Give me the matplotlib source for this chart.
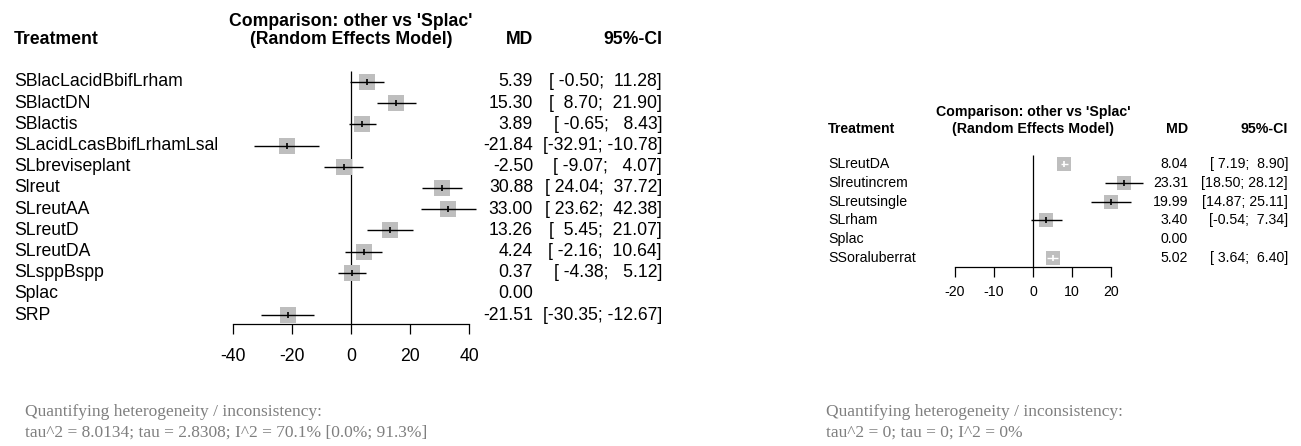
import numpy as np
import matplotlib
matplotlib.use("Agg")
import matplotlib.pyplot as plt
from matplotlib import transforms

plt.rcParams['font.family'] = ['Liberation Sans', 'DejaVu Sans']
plt.rcParams['axes.unicode_minus'] = False

# ---- datos: panel izquierdo ----
trat_izq = ["SBlacLacidBbifLrham", "SBlactDN", "SBlactis", "SLacidLcasBbifLrhamLsal",
            "SLbreviseplant", "Slreut", "SLreutAA", "SLreutD", "SLreutDA",
            "SLsppBspp", "Splac", "SRP"]
md_izq = [5.39, 15.30, 3.89, -21.84, -2.50, 30.88, 33.00, 13.26, 4.24, 0.37, 0.00, -21.51]
lo_izq = [-0.50, 8.70, -0.65, -32.91, -9.07, 24.04, 23.62, 5.45, -2.16, -4.38, np.nan, -30.35]
hi_izq = [11.28, 21.90, 8.43, -10.78, 4.07, 37.72, 42.38, 21.07, 10.64, 5.12, np.nan, -12.67]
ticks_izq = [-40, -20, 0, 20, 40]
het_izq = ["Quantifying heterogeneity / inconsistency:",
           "tau^2 = 8.0134; tau = 2.8308; I^2 = 70.1% [0.0%; 91.3%]"]

# ---- datos: panel derecho ----
trat_der = ["SLreutDA", "Slreutincrem", "SLreutsingle", "SLrham", "Splac", "SSoraluberrat"]
md_der = [8.04, 23.31, 19.99, 3.40, 0.00, 5.02]
lo_der = [7.19, 18.50, 14.87, -0.54, np.nan, 3.64]
hi_der = [8.90, 28.12, 25.11, 7.34, np.nan, 6.40]
ticks_der = [-20, -10, 0, 10, 20]
het_der = ["Quantifying heterogeneity / inconsistency:",
           "tau^2 = 0; tau = 0; I^2 = 0%"]

titulo = ["Comparison: other vs 'Splac'", "(Random Effects Model)"]

W, H = 1301, 446
fig = plt.figure(figsize=(W / 100, H / 100), dpi=100)


def px(x, y):
    # pixeles (desde arriba-izquierda) -> fraccion de figura
    return x / W, 1 - y / H


def forest(trat, md, lo, hi, ticks, ancho_ci, geo):
    x0, x1 = geo['x0'], geo['x1']
    fila0, paso, eje_y = geo['fila0'], geo['paso'], geo['eje']
    fs = geo['fs']
    n = len(trat)
    top_px = fila0 - 0.55 * paso
    ax = fig.add_axes([x0 / W, 1 - eje_y / H, (x1 - x0) / W, (eje_y - top_px) / H])
    ybot = n - 1 - (eje_y - fila0) / paso
    ytop = n - 1 + (fila0 - top_px) / paso
    ax.set_xlim(ticks[0], ticks[-1])
    ax.set_ylim(ybot, ytop)
    ax.patch.set_visible(False)
    for s in ['top', 'right', 'left']:
        ax.spines[s].set_visible(False)
    ax.spines['bottom'].set_linewidth(0.9)
    ax.set_yticks([])
    ax.set_xticks(ticks)
    ax.tick_params(axis='x', length=7.2, width=0.9, labelsize=fs, pad=geo['pad'])

    y = n - 1 - np.arange(n)
    ax.vlines(0, ybot, n - 1 + 0.5, color='black', lw=0.9)

    # cuadrados
    lado = geo['sq']
    ppu = (x1 - x0) / (ticks[-1] - ticks[0])
    for yi, m, a, b in zip(y, md, lo, hi):
        if np.isnan(a):
            continue
        ax.scatter([m], [yi], marker='s', s=(lado * 0.72) ** 2, color='#bebebe',
                   linewidths=0, zorder=2, clip_on=False)
        dentro = (b - a) * ppu < lado
        col = 'white' if dentro else 'black'
        ax.hlines(yi, a, b, color=col, lw=1.0, zorder=3, clip_on=False)
        ax.scatter([m], [yi], marker='|', s=16, color=col, linewidths=1.2,
                   zorder=4, clip_on=False)

    # columnas de texto
    tr = transforms.blended_transform_factory(fig.transFigure, ax.transData)
    for yi, t, m, a, b in zip(y, trat, md, lo, hi):
        ax.text(geo['xlab'] / W, yi, t, transform=tr, ha='left', va='center',
                fontsize=fs)
        ax.text(geo['xmd'] / W, yi, "%.2f" % m, transform=tr, ha='right',
                va='center', fontsize=fs)
        if not np.isnan(a):
            ci = "[%*.2f; %*.2f]" % (ancho_ci, a, ancho_ci, b)
            ax.text(geo['xci'] / W, yi, ci, transform=tr, ha='right',
                    va='center', fontsize=fs)

    # cabecera
    xc = (x0 + (0 - ticks[0]) * ppu)
    fig.text(*px(xc, geo['h1']), titulo[0], ha='center', va='center',
             fontsize=fs, fontweight='bold')
    fig.text(*px(xc, geo['h2']), titulo[1], ha='center', va='center',
             fontsize=fs, fontweight='bold')
    fig.text(*px(geo['xlab'], geo['h2']), "Treatment", ha='left', va='center',
             fontsize=fs, fontweight='bold')
    fig.text(*px(geo['xmd'], geo['h2']), "MD", ha='right', va='center',
             fontsize=fs, fontweight='bold')
    fig.text(*px(geo['xci'], geo['h2']), "95%-CI", ha='right', va='center',
             fontsize=fs, fontweight='bold')
    return ax


geo_izq = dict(x0=233, x1=469, fila0=82, paso=21.2, eje=324, fs=12.7, sq=16,
               xlab=14, xmd=533, xci=662, h1=21, h2=39, pad=10)
geo_der = dict(x0=955, x1=1111, fila0=164, paso=18.8, eje=267, fs=10.2, sq=14,
               xlab=828, xmd=1188, xci=1288, h1=112, h2=129, pad=6)

forest(trat_izq, md_izq, lo_izq, hi_izq, ticks_izq, 6, geo_izq)
forest(trat_der, md_der, lo_der, hi_der, ticks_der, 5, geo_der)

# heterogeneidad
for xh, lineas in [(25, het_izq), (826, het_der)]:
    for k, linea in enumerate(lineas):
        fig.text(*px(xh, 412 + 21 * k), linea, ha='left', va='center',
                 fontsize=12.5, color='#7f7f7f', family='Liberation Serif')

fig.savefig("out.png", dpi=100)
